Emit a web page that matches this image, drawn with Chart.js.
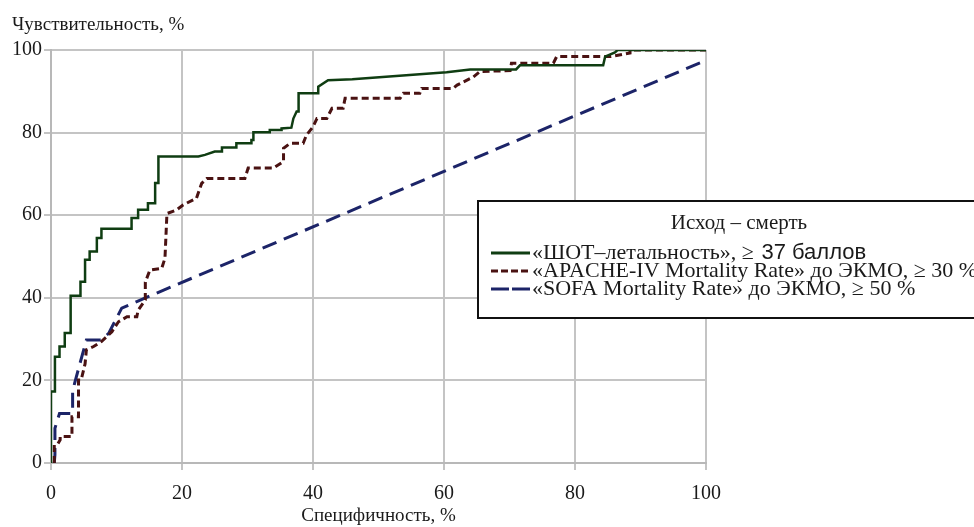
<!DOCTYPE html>
<html>
<head>
<meta charset="utf-8">
<script src="https://cdn.jsdelivr.net/npm/chart.js@4/dist/chart.umd.min.js"></script>
<style>
  body { margin: 0; background: #fff; }
  canvas { display: block; }
</style>
</head>
<body>
<canvas id="roc" width="974" height="527"></canvas>
<script>
// ROC points: specificity (x) and sensitivity (y), in %
const shotX = [0, 0, 0.6, 0.6, 1.3, 1.3, 2.1, 2.1, 3.0, 3.0, 4.5, 4.5, 5.2, 5.2, 5.9, 5.9, 7.0, 7.0, 7.7, 7.7,
    12.3, 12.3, 13.3, 13.3, 14.8, 14.8, 15.9, 15.9, 16.4, 16.4, 22.5, 23.5, 25.0, 26.1, 26.1, 28.3, 28.3,
    30.6, 30.6, 30.9, 30.9, 33.4, 33.4, 35.2, 35.2, 36.7, 37.0, 37.5, 37.8, 37.8, 40.8, 40.8, 42.3, 46.0,
    60.4, 64.0, 71.0, 71.6, 84.3, 84.6, 86.1, 86.5, 100];
const shotY = [0, 17.3, 17.3, 25.7, 25.7, 28.2, 28.2, 31.5, 31.5, 40.5, 40.5, 43.9, 43.9, 49.2, 49.2, 51.2,
    51.2, 54.5, 54.5, 56.7, 56.7, 59.3, 59.3, 61.3, 61.3, 62.9, 62.9, 67.8, 67.8, 74.2, 74.2, 74.6, 75.4,
    75.4, 76.4, 76.4, 77.4, 77.4, 78.2, 78.2, 80.1, 80.1, 80.6, 80.6, 81.0, 81.2, 83.4, 85.1, 85.1, 89.5,
    89.5, 91.1, 92.7, 92.9, 94.6, 95.3, 95.3, 96.3, 96.3, 98.4, 99.4, 100, 100];

const apacheX = [0.5, 0.5, 0.8, 1.4, 1.4, 3.2, 3.2, 4.2, 4.2, 4.6, 5.2, 5.4, 6.5, 7.7, 9.3, 10.3, 11.6, 13.1,
    13.3, 14.4, 14.4, 15.1, 16.9, 17.4, 17.7, 19.2, 20.2, 22.2, 23.0, 23.8, 29.6, 30.1, 33.9, 35.5, 35.5,
    36.5, 38.5, 39.0, 40.0, 40.6, 42.1, 42.9, 44.6, 44.9, 53.3, 53.8, 56.3, 56.6, 61.4, 62.0, 64.5, 65.5,
    70.1, 70.3, 76.7, 77.2, 85.5, 88.4, 88.4, 100];
const apacheY = [0, 4.0, 4.0, 5.6, 6.4, 6.4, 11.2, 11.2, 20.1, 20.1, 24.0, 27.4, 28.2, 29.4, 31.8, 34.2, 35.4,
    35.4, 37.0, 39.5, 43.8, 46.7, 47.1, 49.6, 60.4, 61.3, 62.5, 64.1, 67.7, 68.9, 68.9, 71.4, 71.4, 73.0,
    76.2, 77.4, 77.4, 79.4, 81.4, 83.4, 83.4, 85.9, 85.9, 88.3, 88.3, 89.5, 89.5, 90.7, 90.7, 91.5, 93.5,
    94.8, 95.0, 96.8, 96.8, 98.4, 98.4, 99.3, 100, 100];

const sofaX = [0.5, 0.6, 0.6, 1.3, 3.3, 3.3, 3.6, 5.4, 7.7, 8.8, 10.8, 13.1, 100];
const sofaY = [0, 2.0, 8.4, 12.0, 12.0, 17.0, 19.3, 29.8, 29.8, 31.4, 37.5, 39.1, 97.5];

const xTicks = [0, 20, 40, 60, 80, 100];
const yTicks = [0, 20, 40, 60, 80, 100];

const seriesNames = ['«ШОТ–летальность», ≥ ', '«APACHE-IV Mortality Rate» до ЭКМО, ≥ 30 %', '«SOFA Mortality Rate» до ЭКМО, ≥ 50 %'];
const seriesColors = ['#0f3d12', '#4a1212', '#1c2468'];
const seriesDash = [[], [7, 4], [15, 8]];

function toPoints(xs, ys) {
    return xs.map((x, i) => ({ x: x, y: ys[i] }));
}

const serif = 'Liberation Serif';

// y title (horizontal, top left) and the boxed legend
const overlay = {
    id: 'overlay',
    afterDraw(chart) {
        const ctx = chart.ctx;
        ctx.save();
        ctx.fillStyle = '#1a1a1a';
        ctx.textBaseline = 'middle';
        ctx.textAlign = 'left';
        ctx.font = '19px "' + serif + '"';
        ctx.fillText('Чувствительность, %', 12, 25);

        // legend box
        ctx.fillStyle = '#fff';
        ctx.fillRect(478, 201, 520, 117);
        ctx.strokeStyle = '#111';
        ctx.lineWidth = 2;
        ctx.strokeRect(478, 201, 520, 117);

        ctx.fillStyle = '#1a1a1a';
        ctx.textAlign = 'center';
        ctx.font = '21px "' + serif + '"';
        ctx.fillText('Исход – смерть', 739, 223);

        const rows = [253, 271, 289];
        ctx.textAlign = 'left';
        rows.forEach((y, i) => {
            ctx.strokeStyle = seriesColors[i];
            ctx.lineWidth = 3;
            ctx.setLineDash(i === 1 ? [7, 3] : (i === 2 ? [18, 3] : []));
            ctx.beginPath();
            ctx.moveTo(491, y);
            ctx.lineTo(530, y);
            ctx.stroke();
            ctx.setLineDash([]);
            ctx.fillStyle = '#1a1a1a';
            ctx.font = '22px "' + serif + '"';
            ctx.fillText(seriesNames[i], 532, y);
            if (i === 0) {
                const w = ctx.measureText(seriesNames[0]).width;
                ctx.font = '22px "Liberation Sans"';
                ctx.fillText('37 баллов', 532 + w + 2, y);
            }
        });
        ctx.restore();
    }
};

new Chart(document.getElementById('roc'), {
    type: 'scatter',
    data: {
        datasets: [
            { label: seriesNames[0], data: toPoints(shotX, shotY) },
            { label: seriesNames[1], data: toPoints(apacheX, apacheY) },
            { label: seriesNames[2], data: toPoints(sofaX, sofaY) }
        ].map((d, i) => Object.assign(d, {
            showLine: true,
            borderColor: seriesColors[i],
            borderWidth: i === 0 ? 2.5 : 3,
            borderDash: seriesDash[i],
            pointRadius: 0,
            fill: false,
            tension: 0
        }))
    },
    options: {
        responsive: false,
        animation: false,
        layout: { padding: { top: 50, right: 268, left: 0, bottom: 0 } },
        plugins: {
            legend: { display: false },
            tooltip: { enabled: false }
        },
        scales: {
            x: {
                type: 'linear',
                min: 0,
                max: 100,
                afterFit: s => { s.height = 64; },
                afterBuildTicks: s => { s.ticks = xTicks.map(v => ({ value: v })); },
                ticks: { color: '#1a1a1a', padding: 12, font: { family: serif, size: 20 } },
                grid: { color: '#c4c4c4', lineWidth: 2, tickLength: 7 },
                border: { color: '#b8b8b8', width: 2 },
                title: {
                    display: true,
                    text: 'Специфичность, %',
                    color: '#1a1a1a',
                    font: { family: serif, size: 19 },
                    padding: { top: 0, bottom: 0 }
                }
            },
            y: {
                type: 'linear',
                min: 0,
                max: 100,
                afterFit: s => { s.width = 51; },
                afterBuildTicks: s => { s.ticks = yTicks.map(v => ({ value: v })); },
                ticks: { color: '#1a1a1a', padding: 2, font: { family: serif, size: 20 } },
                grid: { color: '#c4c4c4', lineWidth: 2, tickLength: 7 },
                border: { color: '#b8b8b8', width: 2 }
            }
        }
    },
    plugins: [overlay]
});
</script>
</body>
</html>
